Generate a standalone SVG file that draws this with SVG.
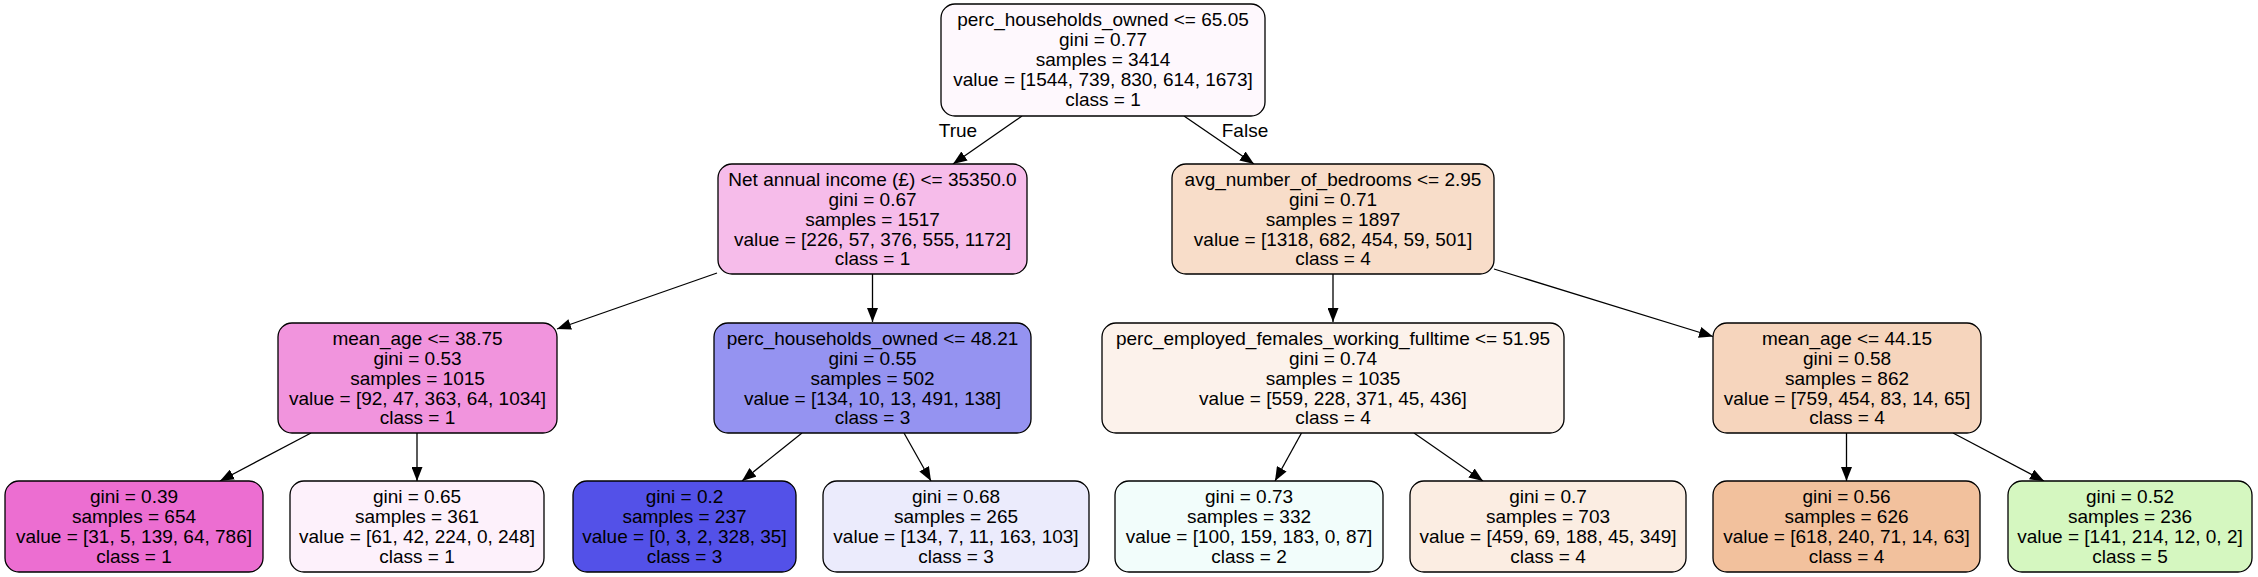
<svg xmlns="http://www.w3.org/2000/svg" width="2258" height="577" viewBox="0 0 2258 577">
<style>
.box{stroke:#000;stroke-width:1.3}
text{font-family:"Liberation Sans",Arial,Helvetica,sans-serif;font-size:19px;fill:#000;text-anchor:middle}
.edge{stroke:#000;stroke-width:1.3;fill:none}
</style>
<defs>
<marker id="arr" markerUnits="userSpaceOnUse" viewBox="0 0 14 11" markerWidth="14" markerHeight="11" refX="14" refY="5.5" orient="auto">
<path d="M0,0 L14,5.5 L0,11 z" fill="#000"/>
</marker>
</defs>
<rect width="2258" height="577" fill="#fff"/>
<g id="connectors">
<line class="edge" x1="1022" y1="116" x2="953" y2="164" marker-end="url(#arr)"/>
<line class="edge" x1="1184" y1="116" x2="1254" y2="164" marker-end="url(#arr)"/>
<text x="958" y="137">True</text>
<text x="1245" y="137">False</text>
<line class="edge" x1="717" y1="273" x2="557" y2="329" marker-end="url(#arr)"/>
<line class="edge" x1="872.5" y1="274" x2="872.5" y2="322" marker-end="url(#arr)"/>
<line class="edge" x1="1333" y1="274" x2="1333" y2="322" marker-end="url(#arr)"/>
<line class="edge" x1="1494" y1="269" x2="1713" y2="336.5" marker-end="url(#arr)"/>
<line class="edge" x1="311" y1="433" x2="220" y2="481" marker-end="url(#arr)"/>
<line class="edge" x1="417" y1="433" x2="417" y2="481" marker-end="url(#arr)"/>
<line class="edge" x1="802" y1="433" x2="742" y2="481" marker-end="url(#arr)"/>
<line class="edge" x1="904" y1="433" x2="931" y2="481" marker-end="url(#arr)"/>
<line class="edge" x1="1301.5" y1="433" x2="1275" y2="481" marker-end="url(#arr)"/>
<line class="edge" x1="1414" y1="433" x2="1483" y2="481" marker-end="url(#arr)"/>
<line class="edge" x1="1846.5" y1="433" x2="1846.5" y2="481" marker-end="url(#arr)"/>
<line class="edge" x1="1953" y1="433" x2="2044" y2="481" marker-end="url(#arr)"/>
</g>
<g id="n0">
<rect class="box" x="941" y="4" width="324" height="112" rx="14" fill="#fef8fd"/>
<text x="1103" y="26">perc_households_owned &lt;= 65.05</text>
<text x="1103" y="46">gini = 0.77</text>
<text x="1103" y="66">samples = 3414</text>
<text x="1103" y="86">value = [1544, 739, 830, 614, 1673]</text>
<text x="1103" y="106">class = 1</text>
</g>
<g id="n1">
<rect class="box" x="718" y="164" width="309" height="110" rx="14" fill="#f6bcea"/>
<text x="872.5" y="186">Net annual income (£) &lt;= 35350.0</text>
<text x="872.5" y="206">gini = 0.67</text>
<text x="872.5" y="226">samples = 1517</text>
<text x="872.5" y="245.5">value = [226, 57, 376, 555, 1172]</text>
<text x="872.5" y="265">class = 1</text>
</g>
<g id="n8">
<rect class="box" x="1172" y="164" width="322" height="110" rx="14" fill="#f8ddc9"/>
<text x="1333" y="186">avg_number_of_bedrooms &lt;= 2.95</text>
<text x="1333" y="206">gini = 0.71</text>
<text x="1333" y="226">samples = 1897</text>
<text x="1333" y="245.5">value = [1318, 682, 454, 59, 501]</text>
<text x="1333" y="265">class = 4</text>
</g>
<g id="n2">
<rect class="box" x="278" y="323" width="279" height="110" rx="14" fill="#f194dd"/>
<text x="417.5" y="345">mean_age &lt;= 38.75</text>
<text x="417.5" y="365">gini = 0.53</text>
<text x="417.5" y="385">samples = 1015</text>
<text x="417.5" y="404.5">value = [92, 47, 363, 64, 1034]</text>
<text x="417.5" y="424">class = 1</text>
</g>
<g id="n5">
<rect class="box" x="714" y="323" width="317" height="110" rx="14" fill="#9593f1"/>
<text x="872.5" y="345">perc_households_owned &lt;= 48.21</text>
<text x="872.5" y="365">gini = 0.55</text>
<text x="872.5" y="385">samples = 502</text>
<text x="872.5" y="404.5">value = [134, 10, 13, 491, 138]</text>
<text x="872.5" y="424">class = 3</text>
</g>
<g id="n9">
<rect class="box" x="1102" y="323" width="462" height="110" rx="14" fill="#fcf2eb"/>
<text x="1333" y="345">perc_employed_females_working_fulltime &lt;= 51.95</text>
<text x="1333" y="365">gini = 0.74</text>
<text x="1333" y="385">samples = 1035</text>
<text x="1333" y="404.5">value = [559, 228, 371, 45, 436]</text>
<text x="1333" y="424">class = 4</text>
</g>
<g id="n12">
<rect class="box" x="1713" y="323" width="268" height="110" rx="14" fill="#f6d5bd"/>
<text x="1847" y="345">mean_age &lt;= 44.15</text>
<text x="1847" y="365">gini = 0.58</text>
<text x="1847" y="385">samples = 862</text>
<text x="1847" y="404.5">value = [759, 454, 83, 14, 65]</text>
<text x="1847" y="424">class = 4</text>
</g>
<g id="n3">
<rect class="box" x="5" y="481" width="258" height="91" rx="14" fill="#ec6ed1"/>
<text x="134" y="503">gini = 0.39</text>
<text x="134" y="523">samples = 654</text>
<text x="134" y="543">value = [31, 5, 139, 64, 786]</text>
<text x="134" y="563">class = 1</text>
</g>
<g id="n4">
<rect class="box" x="290" y="481" width="254" height="91" rx="14" fill="#fdf1fb"/>
<text x="417" y="503">gini = 0.65</text>
<text x="417" y="523">samples = 361</text>
<text x="417" y="543">value = [61, 42, 224, 0, 248]</text>
<text x="417" y="563">class = 1</text>
</g>
<g id="n6">
<rect class="box" x="573" y="481" width="223" height="91" rx="14" fill="#5351e8"/>
<text x="684.5" y="503">gini = 0.2</text>
<text x="684.5" y="523">samples = 237</text>
<text x="684.5" y="543">value = [0, 3, 2, 328, 35]</text>
<text x="684.5" y="563">class = 3</text>
</g>
<g id="n7">
<rect class="box" x="823" y="481" width="266" height="91" rx="14" fill="#ebebfc"/>
<text x="956" y="503">gini = 0.68</text>
<text x="956" y="523">samples = 265</text>
<text x="956" y="543">value = [134, 7, 11, 163, 103]</text>
<text x="956" y="563">class = 3</text>
</g>
<g id="n10">
<rect class="box" x="1115" y="481" width="268" height="91" rx="14" fill="#f2fdfb"/>
<text x="1249" y="503">gini = 0.73</text>
<text x="1249" y="523">samples = 332</text>
<text x="1249" y="543">value = [100, 159, 183, 0, 87]</text>
<text x="1249" y="563">class = 2</text>
</g>
<g id="n11">
<rect class="box" x="1410" y="481" width="276" height="91" rx="14" fill="#fbede2"/>
<text x="1548" y="503">gini = 0.7</text>
<text x="1548" y="523">samples = 703</text>
<text x="1548" y="543">value = [459, 69, 188, 45, 349]</text>
<text x="1548" y="563">class = 4</text>
</g>
<g id="n13">
<rect class="box" x="1713" y="481" width="267" height="91" rx="14" fill="#f2c19d"/>
<text x="1846.5" y="503">gini = 0.56</text>
<text x="1846.5" y="523">samples = 626</text>
<text x="1846.5" y="543">value = [618, 240, 71, 14, 63]</text>
<text x="1846.5" y="563">class = 4</text>
</g>
<g id="n14">
<rect class="box" x="2008" y="481" width="244" height="91" rx="14" fill="#d5f7c0"/>
<text x="2130" y="503">gini = 0.52</text>
<text x="2130" y="523">samples = 236</text>
<text x="2130" y="543">value = [141, 214, 12, 0, 2]</text>
<text x="2130" y="563">class = 5</text>
</g>
</svg>
